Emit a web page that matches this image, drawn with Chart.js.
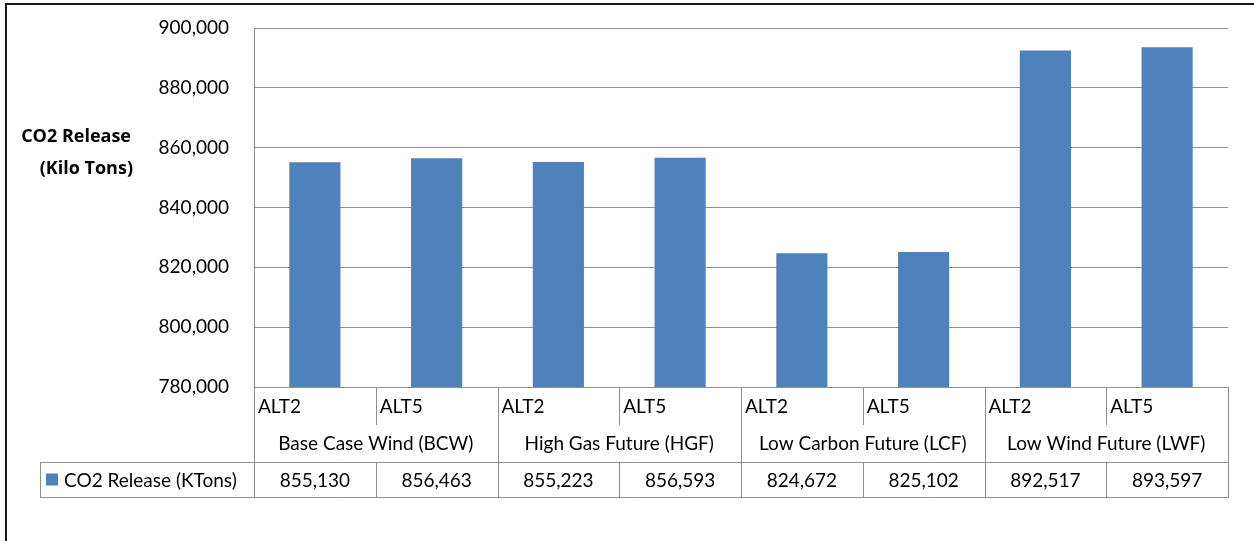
<!DOCTYPE html>
<html>
<head>
<meta charset="utf-8">
<script src="https://cdn.jsdelivr.net/npm/chart.js@4/dist/chart.umd.min.js"></script>
<style>
  html, body { margin: 0; padding: 0; background: #fff; }
  #wrap { width: 1254px; height: 541px; position: relative; }
</style>
</head>
<body>
<div id="wrap"><canvas id="chart" width="1254" height="541"></canvas></div>
<script>
const alternatives = ['ALT2', 'ALT5', 'ALT2', 'ALT5', 'ALT2', 'ALT5', 'ALT2', 'ALT5'];
const futures = ['Base Case Wind (BCW)', 'High Gas Future (HGF)', 'Low Carbon Future (LCF)', 'Low Wind Future (LWF)'];
const co2Release = [855130, 856463, 855223, 856593, 824672, 825102, 892517, 893597];
const seriesName = 'CO2 Release (KTons)';
const axisTitle = ['CO2 Release', '(Kilo Tons)'];
const yMin = 780000, yMax = 900000, yStep = 20000;

const FONT = 'Lato, "Open Sans", sans-serif';
const BLUE = '#4F81BD';
const LINE = '#8f8f8f';
const fmt = v => v.toLocaleString('en-US');

// data table + axis title + outer frame
const tablePlugin = {
  id: 'dataTable',
  afterDraw(chart) {
    const ctx = chart.ctx;
    const x = chart.scales.x;
    const area = chart.chartArea;
    const n = alternatives.length;
    const w = x.width / n;
    const r1 = area.bottom, r2 = r1 + 38, r3 = r2 + 37, r4 = r3 + 35;
    const legendLeft = 40;
    const px = v => Math.round(v) + 0.5;

    ctx.save();
    ctx.strokeStyle = LINE;
    ctx.lineWidth = 1;
    ctx.beginPath();
    ctx.moveTo(px(x.left), area.top); ctx.lineTo(px(x.left), r4);
    for (let i = 1; i <= n; i++) {
      const bx = px(x.left + i * w);
      const groupEdge = i % 2 === 0;
      ctx.moveTo(bx, r1);
      ctx.lineTo(bx, groupEdge ? r4 : r2);
      if (!groupEdge) { ctx.moveTo(bx, r3); ctx.lineTo(bx, r4); }
    }
    ctx.moveTo(legendLeft, px(r3)); ctx.lineTo(px(x.right), px(r3));
    ctx.moveTo(legendLeft, px(r4)); ctx.lineTo(px(x.right), px(r4));
    ctx.moveTo(px(legendLeft), r3); ctx.lineTo(px(legendLeft), r4);
    ctx.stroke();

    ctx.fillStyle = '#000';
    ctx.font = '19px ' + FONT;
    ctx.textBaseline = 'middle';
    ctx.textAlign = 'left';
    alternatives.forEach((a, i) => ctx.fillText(a, x.left + i * w + 4, (r1 + r2) / 2 + 1));
    ctx.textAlign = 'center';
    futures.forEach((f, g) => ctx.fillText(f, x.left + (g * 2 + 1) * w, (r2 + r3) / 2));
    co2Release.forEach((v, i) => ctx.fillText(fmt(v), x.getPixelForValue(i), (r3 + r4) / 2 + 1));

    // legend key
    ctx.fillStyle = BLUE;
    ctx.fillRect(46, (r3 + r4) / 2 - 6, 12, 12);
    ctx.fillStyle = '#000';
    ctx.textAlign = 'left';
    ctx.fillText(seriesName, 64, (r3 + r4) / 2 + 1);

    // axis title
    ctx.font = 'bold 18px "Open Sans", sans-serif';
    ctx.textAlign = 'right';
    ctx.fillText(axisTitle[0], 131, 137);
    ctx.fillText(axisTitle[1], 133, 169);

    // outer frame
    ctx.strokeStyle = '#1a1a1a';
    ctx.lineWidth = 2;
    ctx.beginPath();
    ctx.moveTo(6, 541); ctx.lineTo(6, 4); ctx.lineTo(1254, 4);
    ctx.stroke();
    ctx.restore();
  }
};

new Chart(document.getElementById('chart'), {
  type: 'bar',
  data: {
    labels: alternatives,
    datasets: [{
      label: seriesName,
      data: co2Release,
      backgroundColor: BLUE,
      borderWidth: 0,
      categoryPercentage: 1,
      barPercentage: 0.42
    }]
  },
  options: {
    responsive: false,
    animation: false,
    layout: { padding: { top: 28, right: 26, bottom: 154, left: 0 } },
    plugins: { legend: { display: false }, tooltip: { enabled: false } },
    scales: {
      x: { display: false, offset: true },
      y: {
        min: yMin,
        max: yMax,
        afterFit(scale) {
          scale.width = 254;
          scale.paddingTop = 0;
          scale.paddingBottom = 0;
        },
        ticks: {
          stepSize: yStep,
          padding: 25,
          color: '#000',
          font: { family: FONT, size: 19 },
          callback: v => fmt(v)
        },
        grid: { color: LINE, drawTicks: false },
        border: { display: true, color: LINE }
      }
    }
  },
  plugins: [tablePlugin]
});
</script>
</body>
</html>
